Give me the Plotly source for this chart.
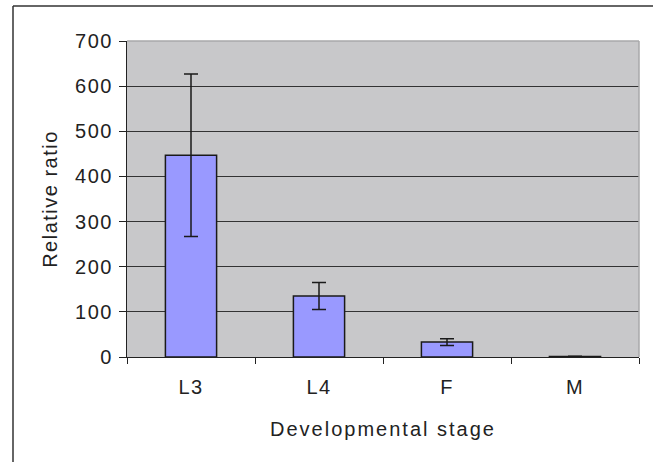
import plotly.graph_objects as go

stages = ["L3", "L4", "F", "M"]
ratio = [447, 135, 33, 1]
ratio_err = [180, 30, 7.5, 0.5]
y_ticks = [0, 100, 200, 300, 400, 500, 600, 700]

LS = "letter-spacing:1.5px"
FONT = "Liberation Sans, Arial, sans-serif"

W, H = 653, 462
ml, mr, mt, mb = 127, 14, 41, 105
pw, ph = W - ml - mr, H - mt - mb

def px_x(px):
    return (px - ml) / pw

def px_y(py):
    return (H - mb - py) / ph

fig = go.Figure()
fig.add_trace(go.Bar(
    x=stages, y=ratio, width=0.4,
    marker=dict(color="#9999FF", line=dict(color="#1a1a1a", width=1.5)),
    error_y=dict(type="data", array=ratio_err, visible=True,
                 color="#1a1a1a", thickness=1.5, width=7),
))

fig.update_layout(
    width=W, height=H,
    margin=dict(l=ml, r=mr, t=mt, b=mb),
    paper_bgcolor="white",
    plot_bgcolor="#C8C8CA",
    showlegend=False,
    font=dict(family=FONT, size=20, color="#222222"),
    xaxis=dict(
        type="category", range=[-0.5, 3.5],
        tickson="boundaries", ticks="outside", ticklen=6, tickcolor="#222",
        tickvals=stages,
        ticktext=[f'<span style="{LS}">{s}</span>' for s in stages],
        ticklabelstandoff=12,
        showline=True, linecolor="#222", linewidth=1.2,
        showgrid=False,
        title=dict(text='<span style="letter-spacing:2px">Developmental stage</span>',
                   font=dict(size=20), standoff=24),
    ),
    yaxis=dict(
        range=[0, 700],
        tickvals=y_ticks,
        ticktext=[f'<span style="{LS}">{v}</span>' for v in y_ticks],
        ticks="outside", ticklen=7, tickcolor="#222",
        ticklabelstandoff=2,
        showline=True, linecolor="#222", linewidth=1.2,
        showgrid=True, gridcolor="#333", gridwidth=1,
        zeroline=False,
        title=dict(text=f'<span style="{LS}">Relative ratio</span>',
                   font=dict(size=20), standoff=12),
    ),
    shapes=[
        dict(type="line", xref="paper", yref="paper", x0=0, x1=1, y0=1, y1=1,
             line=dict(color="#A8A8AA", width=1.5), layer="above"),
        dict(type="line", xref="paper", yref="paper", x0=1, x1=1, y0=0, y1=1,
             line=dict(color="#A8A8AA", width=1.5), layer="above"),
        dict(type="line", xref="paper", yref="paper",
             x0=px_x(13), x1=px_x(W + 2), y0=px_y(6), y1=px_y(6),
             line=dict(color="#333", width=1.5), layer="above"),
        dict(type="line", xref="paper", yref="paper",
             x0=px_x(13), x1=px_x(13), y0=px_y(6), y1=px_y(H + 2),
             line=dict(color="#333", width=1.5), layer="above"),
    ],
)

fig.write_html("out.html", config={"displayModeBar": False},
               post_script="document.body.style.margin='0';")
